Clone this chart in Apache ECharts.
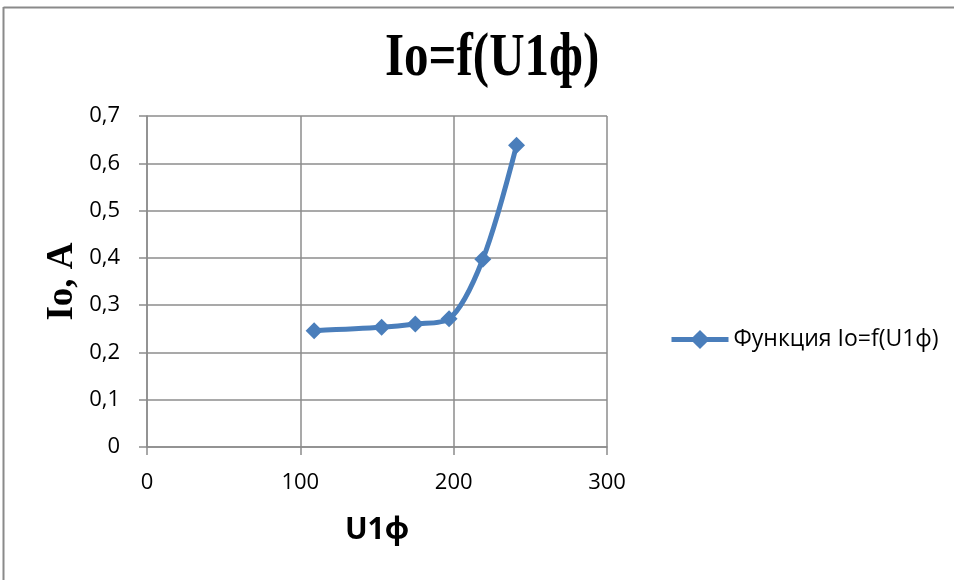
<!DOCTYPE html>
<html>
<head>
<meta charset="utf-8">
<script src="https://cdn.jsdelivr.net/npm/echarts@6/dist/echarts.min.js"></script>
<style>html,body{margin:0;padding:0;background:#fff;}#c{width:954px;height:580px;}</style>
</head>
<body>
<div id="c"></div>
<script>
var titleText = 'Io=f(U1ф)';
var seriesName = 'Функция Io=f(U1ф)';
var xName = 'U1ф';
var yName = 'Io, A';
var uValues = [109, 153, 175, 197, 219, 241];
var ioValues = [0.246, 0.253, 0.26, 0.271, 0.397, 0.638];

var chart = echarts.init(document.getElementById('c'));
var pts = uValues.map(function (u, i) { return [u, ioValues[i]]; });
var gray = '#8c8c8c';
chart.setOption({
  animation: false,
  backgroundColor: '#fff',
  graphic: [
    { type: 'line', shape: { x1: 3.5, y1: 7.5, x2: 954, y2: 7.5 }, style: { stroke: '#8a8a8a', lineWidth: 2 } },
    { type: 'line', shape: { x1: 3.5, y1: 7, x2: 3.5, y2: 580 }, style: { stroke: '#8a8a8a', lineWidth: 2 } },
    { type: 'text', x: 385, y: 28, style: { text: titleText, fontFamily: 'Liberation Serif', fontWeight: 'bold', fontSize: 49, fill: '#000' }, scaleY: 1.27 }
  ],
  grid: { left: 147, right: 347, top: 116, bottom: 133 },
  legend: {
    left: 664, top: 323,
    itemWidth: 57, itemHeight: 24, itemGap: 4,
    textStyle: { fontFamily: 'Open Sans', fontSize: 23, color: '#000' },
    data: [{ name: seriesName, lineStyle: { width: 5, color: '#4a7ebb' } }]
  },
  xAxis: {
    type: 'value', min: 0, max: 300, interval: 100,
    name: xName, nameLocation: 'middle', nameGap: 68,
    nameTextStyle: { fontFamily: 'Open Sans', fontWeight: 'bold', fontSize: 30, color: '#000' },
    axisLine: { show: true, lineStyle: { color: gray, width: 1.5 } },
    axisTick: { show: true, length: 8, inside: false, lineStyle: { color: gray, width: 1.5 } },
    axisLabel: { fontFamily: 'Open Sans', fontSize: 22, color: '#000', margin: 25 },
    splitLine: { show: true, lineStyle: { color: gray, width: 1.5 } }
  },
  yAxis: {
    type: 'value', min: 0, max: 0.7, interval: 0.1,
    name: yName, nameLocation: 'middle', nameGap: 66,
    nameTextStyle: { fontFamily: 'Liberation Serif', fontWeight: 'bold', fontSize: 37, color: '#000' },
    axisLine: { show: true, lineStyle: { color: gray, width: 1.5 } },
    axisTick: { show: true, length: 8, inside: false, lineStyle: { color: gray, width: 1.5 } },
    axisLabel: { fontFamily: 'Open Sans', fontSize: 22, color: '#000', margin: 27,
      formatter: function (v) { return String(Math.round(v * 10) / 10).replace('.', ','); } },
    splitLine: { show: true, lineStyle: { color: gray, width: 1.5 } }
  },
  series: [{
    name: seriesName, type: 'line', data: pts, smooth: 0.3,
    symbol: 'diamond', symbolSize: 17,
    lineStyle: { color: '#4a7ebb', width: 5 },
    itemStyle: { color: '#4a7ebb' }
  }]
});
</script>
</body>
</html>
